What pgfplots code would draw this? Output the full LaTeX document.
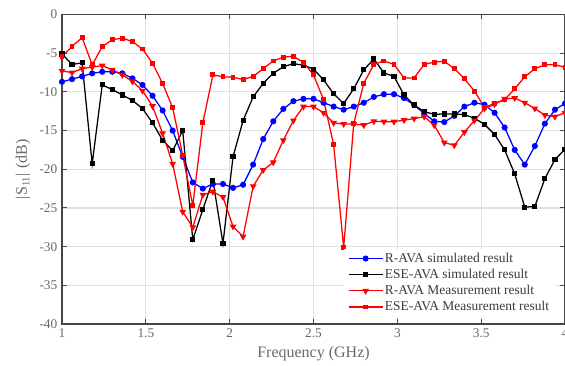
\documentclass[border=0pt]{standalone}
\usepackage{fontspec}
\setmainfont{Liberation Serif}
\usepackage{pgfplots}
\usepackage{pgfplotstable}
\pgfplotsset{compat=1.18}
\definecolor{txtgray}{RGB}{105,105,105}
\definecolor{axgray}{RGB}{70,70,70}
\definecolor{gridgray}{RGB}{224,224,224}
\definecolor{legtxt}{RGB}{60,60,60}

\pgfplotstableread{
f bs bk rt re
1.00 -8.7 -5.1 -7.3 -5.45
1.06 -8.35 -6.45 -7.5 -4.1
1.12 -8.0 -6.25 -7.0 -3.0
1.18 -7.6 -19.3 -6.8 -6.5
1.24 -7.4 -9.1 -6.6 -4.15
1.30 -7.4 -9.7 -7.15 -3.25
1.36 -7.6 -10.4 -7.8 -3.05
1.42 -8.25 -11.1 -8.65 -3.5
1.48 -9.1 -12.15 -9.85 -4.45
1.54 -10.5 -14.0 -11.85 -6.3
1.60 -12.4 -16.25 -15.35 -8.9
1.66 -15.0 -17.6 -19.3 -12.05
1.72 -18.4 -15.0 -25.5 -18.2
1.78 -21.7 -29.1 -27.5 -24.7
1.84 -22.5 -25.2 -23.3 -14.0
1.90 -21.9 -21.4 -22.9 -7.8
1.96 -21.9 -29.6 -23.6 -8.05
2.02 -22.4 -18.4 -27.4 -8.1
2.08 -22.0 -13.7 -28.7 -8.4
2.14 -19.4 -10.65 -22.2 -8.0
2.20 -16.1 -8.9 -20.1 -7.0
2.26 -13.8 -7.6 -19.1 -6.0
2.32 -12.2 -6.75 -16.25 -5.5
2.38 -11.2 -6.35 -13.7 -5.4
2.44 -10.9 -6.55 -11.9 -6.2
2.50 -10.9 -7.05 -11.9 -7.8
2.56 -11.4 -8.45 -12.7 -11.0
2.62 -11.9 -10.25 -14.0 -16.8
2.68 -12.3 -11.5 -14.15 -30.1
2.74 -11.9 -9.6 -14.15 -14.1
2.80 -11.4 -7.15 -14.3 -8.9
2.86 -10.65 -5.75 -13.8 -6.45
2.92 -10.3 -7.55 -13.85 -6.0
2.98 -10.3 -8.0 -13.85 -6.45
3.04 -10.8 -10.4 -13.65 -8.2
3.10 -11.7 -11.7 -13.45 -8.2
3.16 -12.8 -12.55 -13.2 -6.45
3.22 -13.8 -12.9 -14.3 -6.15
3.28 -13.9 -12.85 -16.55 -6.05
3.34 -13.1 -12.85 -16.9 -7.0
3.40 -11.9 -12.95 -15.2 -8.3
3.46 -11.4 -13.4 -13.7 -9.9
3.52 -11.65 -14.2 -12.15 -12.0
3.58 -12.7 -15.5 -11.6 -11.5
3.64 -14.6 -17.5 -10.9 -11.0
3.70 -17.5 -20.6 -10.8 -9.6
3.76 -19.4 -24.9 -11.4 -8.05
3.82 -17.0 -24.8 -12.15 -7.0
3.88 -14.1 -21.2 -13.0 -6.5
3.94 -12.3 -18.75 -13.2 -6.5
4.00 -11.5 -17.4 -12.7 -6.8
}\data

\begin{document}
\begin{tikzpicture}
\begin{axis}[name=ax, scale only axis, width=377.25pt, height=232.1pt,
  xmin=1, xmax=4, ymin=-40, ymax=0,
  xtick={1,1.5,2,2.5,3,3.5,4}, xticklabels={1,1.5,2,2.5,3,3.5,4},
  ytick={-40,-35,-30,-25,-20,-15,-10,-5,0},
  yticklabels={-40,-35,-30,-25,-20,-15,-10,-5,0},
  tick align=inside, major tick length=3.5pt,
  grid=major, major grid style={gridgray, line width=0.9pt},
  axis line style={axgray, line width=0.8pt},
  tick style={axgray, line width=0.8pt},
  /pgf/number format/assume math mode=true,
  ticklabel style={font=\fontsize{10}{12}\selectfont, text=txtgray},
  xlabel={Frequency (GHz)},
  ylabel={\textbar S\textsubscript{11}\textbar\ (dB)},
  label style={font=\fontsize{12}{14}\selectfont, text=txtgray},
  legend style={at={(0.56,0.022)}, anchor=south west, draw=none, fill=white,
    font=\fontsize{10.1}{11}\selectfont, text=legtxt,
    nodes={inner sep=1.2pt}, row sep=1.2pt},
  legend cell align=left,
  legend image code/.code={\draw[mark repeat=2,mark phase=2] plot coordinates {(0cm,0cm) (0.45cm,0cm) (0.9cm,0cm)};},
  every axis plot/.append style={line width=0.95pt},
]
\addplot[blue, mark=*, mark size=1.8pt] table[x=f, y=bs] {\data};
\addlegendentry{R-AVA simulated result}
\addplot[black, mark=square*, mark size=1.45pt] table[x=f, y=bk] {\data};
\addlegendentry{ESE-AVA simulated result}
\addplot[red, mark=triangle*, mark size=2.0pt, mark options={rotate=180}] table[x=f, y=rt] {\data};
\addlegendentry{R-AVA Measurement result}
\addplot[red, mark=square*, mark size=1.35pt] table[x=f, y=re] {\data};
\addlegendentry{ESE-AVA Measurement result}
\end{axis}
\pgfresetboundingbox
\path[use as bounding box] ([xshift=-46.5pt,yshift=-31.5pt]ax.south west) rectangle ([yshift=10.9pt]ax.north east);
\end{tikzpicture}
\end{document}
